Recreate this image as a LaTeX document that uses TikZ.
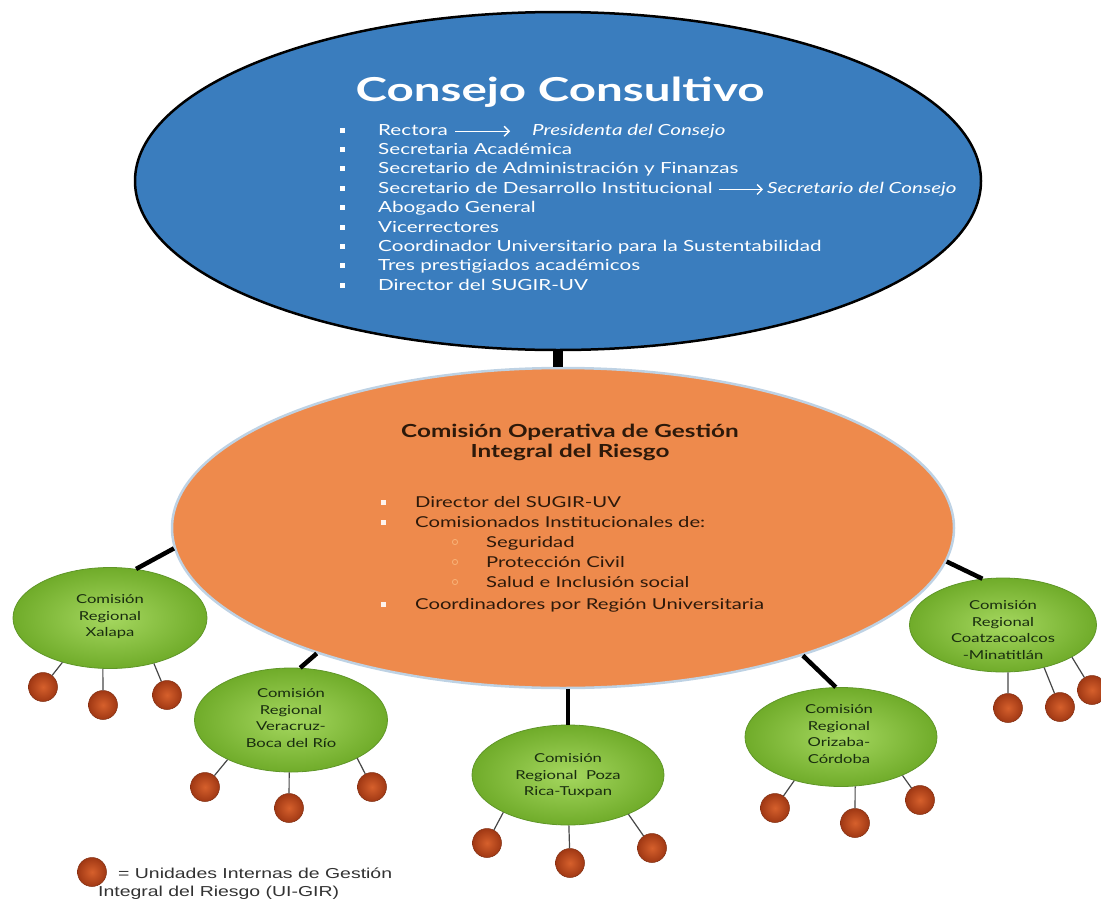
\documentclass[tikz,border=0pt]{standalone}
\usepackage{fontspec}
\setmainfont{Lato}[FakeStretch=1.35]
\newfontfamily\gtitle{Lato}[FakeStretch=1.44]
\newfontfamily\legfont{Liberation Sans}[FakeStretch=1.35]
\usetikzlibrary{shapes.geometric,arrows.meta}
\definecolor{cblue}{RGB}{58,125,190}
\definecolor{corange}{RGB}{238,138,76}
\definecolor{orangeedge}{RGB}{190,210,228}
\definecolor{cgreenin}{RGB}{165,215,95}
\definecolor{cgreenout}{RGB}{112,172,42}
\definecolor{cgreenedge}{RGB}{95,150,40}
\definecolor{cballin}{RGB}{214,96,44}
\definecolor{cballout}{RGB}{160,56,20}
\definecolor{gtext}{RGB}{25,45,15}
\definecolor{otext}{RGB}{45,25,10}
\definecolor{osub}{RGB}{248,178,120}
\definecolor{twigc}{RGB}{70,70,70}
\definecolor{legc}{RGB}{50,50,50}
\begin{document}
\begin{tikzpicture}[x=1pt,y=-1pt,
  big/.style={ellipse, inner sep=0pt},
  region/.style={ellipse, inner sep=0pt, draw=cgreenedge, line width=0.8pt,
    inner color=cgreenin, outer color=cgreenout},
  rtext/.style={align=center, text=gtext, inner sep=0pt, font=\fontsize{12.3}{16.5}\selectfont},
  uigir/.style={circle, inner sep=0pt, minimum size=29pt, inner color=cballin, outer color=cballout,
    draw=cballout!80!black, line width=0.5pt},
  conn/.style={line width=4.5pt, black},
  twig/.style={line width=1.2pt, twigc},
  bl/.style={anchor=base west, text=white, inner sep=0pt, text height=11pt, text depth=3.5pt,
    font=\fontsize{15.3}{19}\selectfont},
  bli/.style={bl, font=\fontsize{15.3}{19}\selectfont\itshape},
  ol/.style={anchor=base west, text=otext, inner sep=0pt, font=\fontsize{15}{19}\selectfont},
  barrow/.style={white, line width=1.3pt, -{Straight Barb[length=5pt,width=10pt]}},
  legtext/.style={anchor=base west, inner sep=0pt, text=legc, font=\legfont\fontsize{14.4}{17}\selectfont},
]
\useasboundingbox (0,0) rectangle (1101,900);

% ---- big ellipses
\node[big, draw=black, line width=2.5pt, fill=cblue, minimum width=846pt, minimum height=338pt] (cc) at (558,181) {};
\node[big, draw=orangeedge, line width=2.5pt, fill=corange, minimum width=782pt, minimum height=320pt] (coge) at (563,528) {};
\draw[line width=10pt] (cc.south) -- (cc.south |- coge.north);

% ---- Consejo Consultivo text
\node[anchor=base, text=white, inner sep=0pt, font=\gtitle\fontsize{33}{38}\selectfont\bfseries] (cctitle) at (560,101) {Consejo Consultivo};
\node[bl] (cl1) at (378,135) {Rectora};
\node[bli] (pres) at (532,135) {Presidenta del Consejo};
\draw[barrow] ([xshift=7pt]cl1.east) -- ([xshift=-22pt]pres.west);
\foreach \t [count=\i from 2] in {Secretaria Académica,Secretario de Administración y Finanzas} {
  \node[bl] (cl\i) at (378,{135+(\i-1)*19.4}) {\t};
}
\node[bl] (cl4) at (378,{135+3*19.4}) {Secretario de Desarrollo Institucional};
\node[bli] (secc) at (767,{135+3*19.4}) {Secretario del Consejo};
\draw[barrow] ([xshift=6pt]cl4.east) -- ([xshift=-4pt]secc.west);
\foreach \t [count=\i from 5] in {Abogado General,Vicerrectores,Coordinador Universitario para la Sustentabilidad,Tres prestigiados académicos,Director del SUGIR-UV} {
  \node[bl] (cl\i) at (378,{135+(\i-1)*19.4}) {\t};
}
\foreach \i in {1,...,9} {
  \fill[white] (339.5,{132.5+(\i-1)*19.4}) rectangle (344.5,{127.5+(\i-1)*19.4});
}

% ---- Comision operativa text
\node[anchor=base, align=center, text=otext, inner sep=0pt, font=\fontsize{18}{20}\selectfont\bfseries] (cogetitle) at (570,457) {Comisión Operativa de Gestión\\Integral del Riesgo};
\node[ol] (o1) at (415,507) {Director del SUGIR-UV};
\node[ol] (o2) at (415,527) {Comisionados Institucionales de:};
\node[ol] (o3) at (486,547) {Seguridad};
\node[ol] (o4) at (486,567) {Protección Civil};
\node[ol] (o5) at (486,587) {Salud e Inclusión social};
\node[ol] (o6) at (415,609) {Coordinadores por Región Universitaria};
\foreach \y in {502,522,604} { \fill[white!90!corange] (381,\y-2.5) rectangle (386,\y+2.5); }
\foreach \y in {542,562,582} { \draw[osub, line width=0.8pt] (455,\y) circle (2.6pt); }

% ---- regional commissions
\node[region, minimum width=194pt, minimum height=101pt] (xal) at (110,618) {};
\node[rtext] (xalt) at (110,617) {Comisión\\Regional\\Xalapa};
\node[region, minimum width=193pt, minimum height=104pt] (ver) at (291,720) {};
\node[rtext] (vert) at (291,718) {Comisión\\Regional\\Veracruz-\\Boca del Río};
\node[region, minimum width=192pt, minimum height=100pt] (poz) at (568,775) {};
\node[rtext] (pozt) at (568,776) {Comisión\\Regional~~Poza\\Rica-Tuxpan};
\node[region, minimum width=192pt, minimum height=99pt] (ori) at (841,737) {};
\node[rtext] (orit) at (839,734) {Comisión\\Regional\\Orizaba-\\Córdoba};
\node[region, minimum width=187pt, minimum height=94pt] (coa) at (1003,625) {};
\node[rtext] (coat) at (1003,630) {Comisión\\Regional\\Coatzacoalcos\\-Minatitlán};

\draw[conn] (coge.183) -- (xal.62);
\draw[conn] (coge.207) -- (ver.80);
\draw[conn] (poz.north |- coge.south) -- (poz.north);
\draw[conn] (coge.332) -- (ori.96);
\draw[conn] (coge.355) -- (coa.114);

% ---- UI-GIR balls
\node[uigir] (x1) at (43,687) {};
\node[uigir] (x2) at (103,705) {};
\node[uigir] (x3) at (167,695) {};
\draw[twig] (xal.223) -- (x1); \draw[twig] (xal.262) -- (x2); \draw[twig] (xal.314) -- (x3);

\node[uigir] (v1) at (205,787) {};
\node[uigir] (v2) at (289,808) {};
\node[uigir] (v3) at (372,787) {};
\draw[twig] (ver.212) -- (v1); \draw[twig] (ver.268) -- (v2); \draw[twig] (ver.330) -- (v3);

\node[uigir] (p1) at (487,843) {};
\node[uigir] (p2) at (570,863) {};
\node[uigir] (p3) at (652,848) {};
\draw[twig] (poz.210) -- (p1); \draw[twig] (poz.271) -- (p2); \draw[twig] (poz.327) -- (p3);

\node[uigir] (r1) at (775,808) {};
\node[uigir] (r2) at (855,823) {};
\node[uigir] (r3) at (920,800) {};
\draw[twig] (ori.223) -- (r1); \draw[twig] (ori.286) -- (r2); \draw[twig] (ori.328) -- (r3);

\node[uigir] (c1) at (1008,708) {};
\node[uigir] (c2) at (1060,707) {};
\node[uigir] (c3) at (1092,690) {};
\draw[twig] (coa.276) -- (c1); \draw[twig] (coa.314) -- (c2); \draw[twig] (coa.335) -- (c3);

% ---- legend
\node[uigir] (leg) at (92,872) {};
\node[legtext] (legt1) at (118,878) {= Unidades Internas de Gestión};
\node[legtext] (legt2) at (98,896) {Integral del Riesgo (UI-GIR)};
\end{tikzpicture}
\end{document}
